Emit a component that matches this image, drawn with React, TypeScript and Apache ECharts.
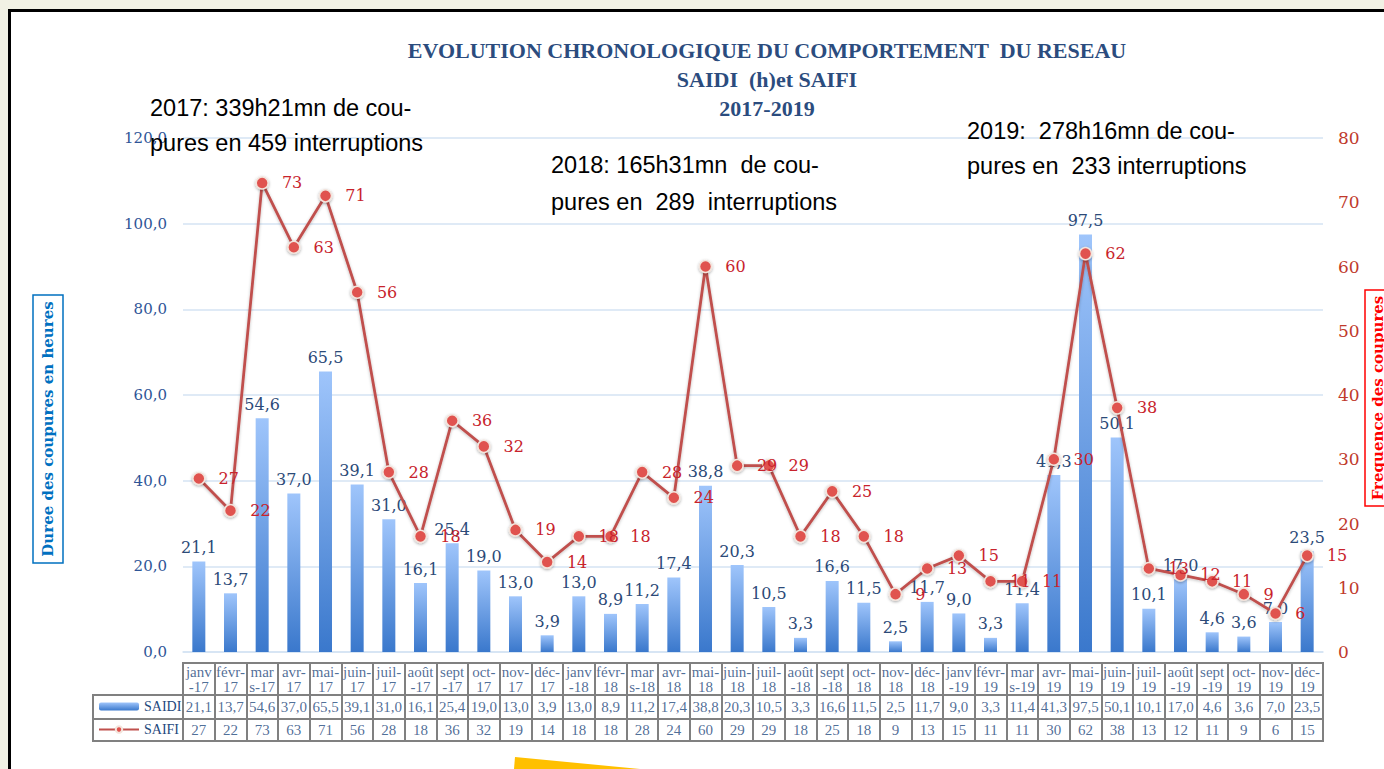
import React, { useEffect, useRef } from 'react';
import * as echarts from 'echarts';

const categories = [
  'janv\n-17', 'févr-\n17', 'mar\ns-17', 'avr-\n17', 'mai-\n17', 'juin-\n17', 'juil-\n17', 'août\n-17', 'sept\n-17', 'oct-\n17', 'nov-\n17', 'déc-\n17',
  'janv\n-18', 'févr-\n18', 'mar\ns-18', 'avr-\n18', 'mai-\n18', 'juin-\n18', 'juil-\n18', 'août\n-18', 'sept\n-18', 'oct-\n18', 'nov-\n18', 'déc-\n18',
  'janv\n-19', 'févr-\n19', 'mar\ns-19', 'avr-\n19', 'mai-\n19', 'juin-\n19', 'juil-\n19', 'août\n-19', 'sept\n-19', 'oct-\n19', 'nov-\n19', 'déc-\n19',
];

const saidi = [
  21.1, 13.7, 54.6, 37.0, 65.5, 39.1, 31.0, 16.1, 25.4, 19.0, 13.0, 3.9,
  13.0, 8.9, 11.2, 17.4, 38.8, 20.3, 10.5, 3.3, 16.6, 11.5, 2.5, 11.7,
  9.0, 3.3, 11.4, 41.3, 97.5, 50.1, 10.1, 17.0, 4.6, 3.6, 7.0, 23.5,
];

const saifi = [
  27, 22, 73, 63, 71, 56, 28, 18, 36, 32, 19, 14,
  18, 18, 28, 24, 60, 29, 29, 18, 25, 18, 9, 13,
  15, 11, 11, 30, 62, 38, 13, 12, 11, 9, 6, 15,
];

const titleLines = ['EVOLUTION CHRONOLOGIQUE DU COMPORTEMENT  DU RESEAU', 'SAIDI  (h)et SAIFI', '2017-2019'];
const notes = [
  '2017: 339h21mn de cou-\npures en 459 interruptions',
  '2018: 165h31mn  de cou-\npures en  289  interruptions',
  '2019:  278h16mn de cou-\npures en  233 interruptions',
];
const leftAxisName = 'Duree des coupures en heures';
const rightAxisName = 'Frequence des coupures';

const fmt1 = (v: number) => Number(v).toFixed(1).replace('.', ',');

const GRID_LEFT = 183;
const GRID_RIGHT = 61;
const TABLE_BORDER = '#808080';
const TABLE_TEXT = '#1f497d';

export default function App() {
  const ref = useRef<HTMLDivElement>(null);

  useEffect(() => {
    document.body.style.margin = '0';
    const chart = echarts.init(ref.current!, null, { renderer: 'svg' });

    const rowGrid = (top: number, height: number) => ({
      left: GRID_LEFT, right: GRID_RIGHT, top, height,
      show: true, borderColor: TABLE_BORDER, borderWidth: 2, backgroundColor: '#ffffff',
    });
    const rowXAxis = (gridIndex: number) => ({
      type: 'category', gridIndex, data: categories, boundaryGap: true,
      axisLine: { show: false }, axisTick: { show: false }, axisLabel: { show: false },
      splitLine: { show: true, interval: 0, lineStyle: { color: TABLE_BORDER, width: 2 } },
    });
    const rowYAxis = (gridIndex: number) => ({ type: 'value', gridIndex, min: 0, max: 1, show: false });
    const rowSeries = (idx: number, texts: (string | number)[]) => ({
      type: 'scatter', xAxisIndex: idx, yAxisIndex: idx + 1, silent: true,
      data: texts.map((_, i) => [i, 0.5]),
      symbolSize: 0.1, itemStyle: { color: 'transparent' },
      label: {
        show: true, position: 'inside', formatter: (p: any) => String(texts[p.dataIndex]),
        color: TABLE_TEXT, fontFamily: 'Liberation Serif', fontSize: 15, lineHeight: 15,
      },
      z: 5,
    });

    const option: any = {
      animation: false,
      backgroundColor: 'transparent',
      title: {
        text: titleLines.join('\n'),
        left: 762, top: 31, textAlign: 'center',
        textStyle: { fontFamily: 'Liberation Serif', fontWeight: 'bold', fontSize: 22, lineHeight: 29, color: '#2b4c7e' },
      },
      legend: {
        data: ['SAIDI', 'SAIFI'], orient: 'vertical', left: 98, top: 699, padding: 0,
        itemWidth: 40, itemHeight: 8, itemGap: 8,
        textStyle: { color: TABLE_TEXT, fontFamily: 'Liberation Serif', fontSize: 14, lineHeight: 15 },
        z: 10,
      },
      grid: [
        { left: GRID_LEFT, right: GRID_RIGHT, top: 138, bottom: 117 },
        rowGrid(663, 32),
        rowGrid(695, 24),
        rowGrid(719, 22),
      ],
      xAxis: [
        {
          type: 'category', gridIndex: 0, data: categories, boundaryGap: true,
          axisLine: { show: true, lineStyle: { color: '#d5e3f3', width: 1.5 } },
          axisTick: { show: false }, axisLabel: { show: false },
        },
        rowXAxis(1), rowXAxis(2), rowXAxis(3),
      ],
      yAxis: [
        {
          type: 'value', gridIndex: 0, min: 0, max: 120, interval: 20, position: 'left',
          axisLine: { show: false }, axisTick: { show: false },
          axisLabel: { formatter: (v: number) => fmt1(v), color: '#2f5597', fontFamily: 'DejaVu Serif', fontSize: 15, margin: 16 },
          splitLine: { show: true, lineStyle: { color: '#d5e3f3', width: 1.5 } },
        },
        {
          type: 'value', gridIndex: 0, min: 0, max: 80, interval: 10, position: 'right',
          axisLine: { show: false }, axisTick: { show: false },
          axisLabel: { color: '#c0392b', fontFamily: 'DejaVu Serif', fontSize: 17, margin: 15 },
          splitLine: { show: false },
        },
        rowYAxis(1), rowYAxis(2), rowYAxis(3),
      ],
      series: [
        {
          name: 'SAIDI', type: 'bar', xAxisIndex: 0, yAxisIndex: 0, data: saidi, barWidth: 13,
          itemStyle: {
            color: new echarts.graphic.LinearGradient(0, 0, 0, 1, [
              { offset: 0, color: '#9fc5fb' },
              { offset: 1, color: '#3a78cc' },
            ]),
          },
          label: {
            show: true, position: 'top', distance: 6, formatter: (p: any) => fmt1(p.value),
            color: '#2c4a78', fontFamily: 'DejaVu Serif', fontSize: 16,
          },
        },
        {
          name: 'SAIFI', type: 'line', xAxisIndex: 0, yAxisIndex: 1, data: saifi,
          symbol: 'circle', symbolSize: 12,
          lineStyle: { color: '#c0504d', width: 2.8, shadowBlur: 3, shadowColor: 'rgba(0,0,0,0.25)', shadowOffsetY: 1 },
          itemStyle: {
            color: '#e0534f', borderColor: '#f3e4dc', borderWidth: 1.5,
            shadowBlur: 3, shadowColor: 'rgba(0,0,0,0.35)', shadowOffsetY: 1,
          },
          label: {
            show: true, position: 'right', distance: 13,
            color: '#c8232c', fontFamily: 'DejaVu Serif', fontSize: 16,
          },
          z: 4,
        },
        rowSeries(1, categories),
        rowSeries(2, saidi.map(fmt1)),
        rowSeries(3, saifi),
      ],
      graphic: [
        { type: 'rect', shape: { x: 93, y: 695, width: 90, height: 24 }, style: { fill: '#fff', stroke: TABLE_BORDER, lineWidth: 2 }, z: 1 },
        { type: 'rect', shape: { x: 93, y: 719, width: 90, height: 22 }, style: { fill: '#fff', stroke: TABLE_BORDER, lineWidth: 2 }, z: 1 },
        { type: 'text', x: 150, y: 90, style: { text: notes[0], font: '23.5px "Liberation Sans"', lineHeight: 35, fill: '#000' }, z: 20 },
        { type: 'text', x: 551, y: 146, style: { text: notes[1], font: '23.5px "Liberation Sans"', lineHeight: 37, fill: '#000' }, z: 20 },
        { type: 'text', x: 967, y: 113, style: { text: notes[2], font: '23.5px "Liberation Sans"', lineHeight: 35, fill: '#000' }, z: 20 },
        {
          type: 'group', x: 48, y: 429, rotation: Math.PI / 2, z: 20,
          children: [
            { type: 'rect', shape: { x: -134, y: -15, width: 268, height: 30 }, style: { fill: 'none', stroke: '#0070c0', lineWidth: 1.5 } },
            { type: 'text', style: { text: leftAxisName, x: 0, y: 0, align: 'center', verticalAlign: 'middle', font: 'bold 15px "DejaVu Serif"', fill: '#0070c0' } },
          ],
        },
        {
          type: 'group', x: 1378, y: 398, rotation: Math.PI / 2, z: 20,
          children: [
            { type: 'rect', shape: { x: -108, y: -13, width: 216, height: 26 }, style: { fill: 'none', stroke: '#ff0000', lineWidth: 1.5 } },
            { type: 'text', style: { text: rightAxisName, x: 0, y: 0, align: 'center', verticalAlign: 'middle', font: 'bold 15px "DejaVu Serif"', fill: '#ff0000' } },
          ],
        },
        { type: 'polygon', shape: { points: [[515, 757], [640, 769], [514, 769]] }, style: { fill: '#ffc000' }, z: 20 },
      ],
    };

    chart.setOption(option);
    return () => chart.dispose();
  }, []);

  return (
    <div style={{ position: 'relative', width: 1384, height: 769, background: '#f1f1e4', overflow: 'hidden' }}>
      <div style={{ position: 'absolute', left: 8, top: 9, width: 1420, height: 800, border: '3px solid #000', background: '#fff', boxSizing: 'border-box' }} />
      <div ref={ref} style={{ position: 'absolute', left: 0, top: 0, width: 1384, height: 769 }} />
    </div>
  );
}
